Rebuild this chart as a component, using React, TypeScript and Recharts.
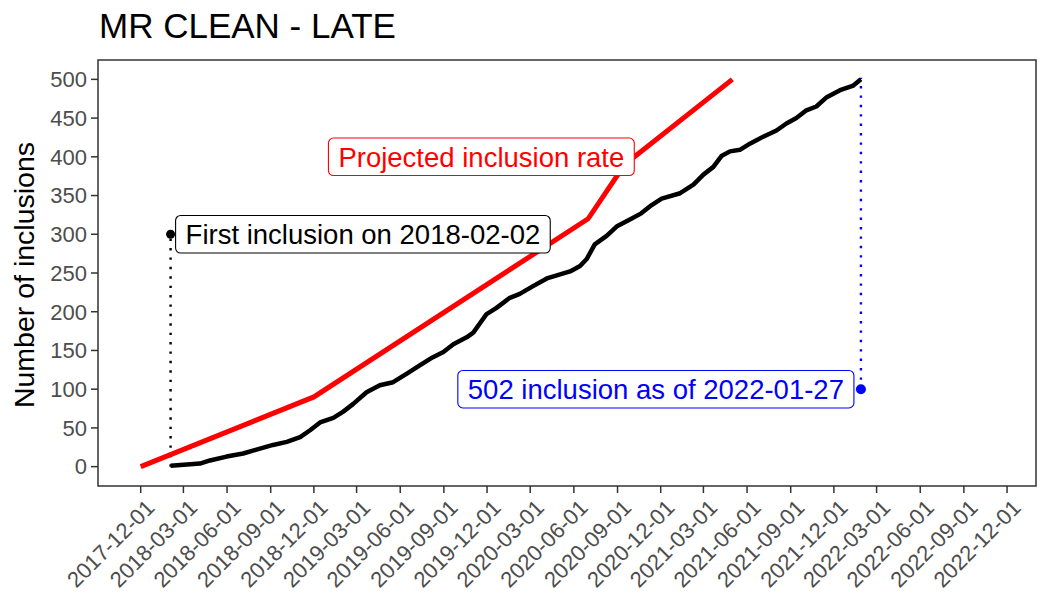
import { ComposedChart, Line, XAxis, YAxis, ReferenceArea, ReferenceDot } from "recharts";

const FONT = '"Liberation Sans", Arial, sans-serif';

// cumulative inclusions
const inclusionDates = [
  "2018-02-02", "2018-04-05", "2018-04-26", "2018-05-31", "2018-07-05", "2018-08-02",
  "2018-09-06", "2018-10-05", "2018-11-02", "2018-11-23", "2018-12-14", "2019-01-11",
  "2019-02-01", "2019-02-22", "2019-03-22", "2019-04-19", "2019-05-17", "2019-06-15",
  "2019-07-13", "2019-08-08", "2019-08-31", "2019-09-21", "2019-10-19", "2019-11-02",
  "2019-11-30", "2019-12-21", "2020-01-18", "2020-02-08", "2020-03-07", "2020-04-05",
  "2020-04-26", "2020-05-24", "2020-06-14", "2020-06-28", "2020-07-15", "2020-08-09",
  "2020-08-30", "2020-09-27", "2020-10-21", "2020-11-08", "2020-12-03", "2021-01-11",
  "2021-02-08", "2021-03-01", "2021-03-22", "2021-04-08", "2021-04-26", "2021-05-17",
  "2021-06-07", "2021-07-05", "2021-08-02", "2021-08-23", "2021-09-13", "2021-10-04",
  "2021-10-25", "2021-11-16", "2021-12-14", "2022-01-11", "2022-01-27",
];
const inclusionCounts = [
  1, 4, 8, 13, 17, 22,
  28, 32, 38, 47, 57, 63,
  71, 81, 96, 105, 109, 120,
  131, 141, 148, 158, 167, 173,
  197, 205, 218, 223, 233, 243,
  247, 252, 259, 268, 287, 298,
  310, 319, 327, 336, 346, 353,
  364, 377, 387, 401, 407, 409,
  417, 426, 434, 443, 450, 460,
  465, 477, 486, 492, 500,
];

const projectedDates = ["2017-12-01", "2018-12-01", "2020-07-01", "2020-09-16", "2021-05-01"];
const projectedCounts = [0, 90, 320, 390, 500];

const xTickDates = [
  "2017-12-01", "2018-03-01", "2018-06-01", "2018-09-01", "2018-12-01", "2019-03-01",
  "2019-06-01", "2019-09-01", "2019-12-01", "2020-03-01", "2020-06-01", "2020-09-01",
  "2020-12-01", "2021-03-01", "2021-06-01", "2021-09-01", "2021-12-01", "2022-03-01",
  "2022-06-01", "2022-09-01", "2022-12-01",
];
const yTicks = [0, 50, 100, 150, 200, 250, 300, 350, 400, 450, 500];

const firstDate = "2018-02-02";
const firstLabelAt = 300;
const lastDate = "2022-01-27";
const lastCount = 502;
const lastLabelAt = 100;
const projectedLabelDate = "2019-11-19";
const projectedLabelAt = 400;

const xDomainDates = ["2017-09-02", "2023-01-31"];
const yDomain = [-25, 525];

const toT = (s: string) => Date.parse(s + "T00:00:00Z");
const fmt = (t: number) => new Date(t).toISOString().slice(0, 10);

const inclusions = inclusionDates.map((d, i) => ({ t: toT(d), n: inclusionCounts[i] }));
const projected = projectedDates.map((d, i) => ({ t: toT(d), n: projectedCounts[i] }));
const firstStem = [{ t: toT(firstDate), n: 0 }, { t: toT(firstDate), n: firstLabelAt }];
const lastStem = [{ t: toT(lastDate), n: lastLabelAt }, { t: toT(lastDate), n: lastCount }];

const LABEL_SIZE = 27.5;
let canvas: HTMLCanvasElement | null = null;
function textWidth(s: string) {
  if (!canvas) canvas = document.createElement("canvas");
  const ctx = canvas.getContext("2d")!;
  ctx.font = `${LABEL_SIZE}px ${FONT}`;
  return ctx.measureText(s).width;
}

function boxLabel(text: string, color: string, align: "left" | "right" | "center", gap: number, dotR: number) {
  return (props: any) => {
    const { cx, cy } = props;
    const w = textWidth(text) + 20;
    const h = 37.5;
    const x0 = align === "left" ? cx + gap : align === "right" ? cx - gap - w : cx - w / 2;
    return (
      <g>
        {dotR > 0 && <circle cx={cx} cy={cy} r={dotR} fill={color} />}
        <rect x={x0} y={cy - h / 2} width={w} height={h} rx={5} ry={5} fill="#fff" stroke={color} strokeWidth={1.1} />
        <text x={x0 + 10} y={cy} dy="0.36em" fill={color} fontSize={LABEL_SIZE} fontFamily={FONT}>
          {text}
        </text>
      </g>
    );
  };
}

function DateTick(props: any) {
  const { x, payload } = props;
  const y = props.y + 3;
  return (
    <text
      x={x + 4}
      y={y}
      transform={`rotate(-45, ${x + 4}, ${y})`}
      textAnchor="end"
      dy="0.72em"
      fill="#4d4d4d"
      fontSize={22}
      fontFamily={FONT}
    >
      {fmt(payload.value)}
    </text>
  );
}

export default function App() {
  return (
    <div style={{ position: "absolute", left: 0, top: 0, width: 1050, height: 613, background: "#fff" }}>
      <ComposedChart width={1050} height={613} margin={{ top: 60, right: 14, bottom: 6, left: 38 }}>
        <XAxis
          type="number"
          dataKey="t"
          scale="linear"
          domain={xDomainDates.map(toT)}
          allowDataOverflow
          ticks={xTickDates.map(toT)}
          tick={<DateTick />}
          tickSize={7}
          tickMargin={2}
          height={121}
          axisLine={false}
          tickLine={{ stroke: "#333", strokeWidth: 1.5 }}
          interval={0}
        />
        <YAxis
          type="number"
          dataKey="n"
          domain={yDomain}
          allowDataOverflow
          ticks={yTicks}
          width={60}
          tickSize={7}
          tickMargin={4}
          axisLine={false}
          tickLine={{ stroke: "#333", strokeWidth: 1.5 }}
          tick={{ fill: "#4d4d4d", fontSize: 22, fontFamily: FONT }}
          interval={0}
        />
        <ReferenceArea
          x1={toT(xDomainDates[0])}
          x2={toT(xDomainDates[1])}
          y1={yDomain[0]}
          y2={yDomain[1]}
          fill="none"
          stroke="#333"
          strokeWidth={1.5}
          ifOverflow="visible"
        />
        <Line data={firstStem} dataKey="n" stroke="#000" strokeWidth={2.4} strokeDasharray="2.4 7" dot={false} isAnimationActive={false} />
        <Line data={lastStem} dataKey="n" stroke="#0000ff" strokeWidth={2.4} strokeDasharray="2.4 7" dot={false} isAnimationActive={false} />
        <Line data={projected} dataKey="n" stroke="#ff0000" strokeWidth={5} dot={false} isAnimationActive={false} />
        <Line data={inclusions} dataKey="n" stroke="#000" strokeWidth={4.5} strokeLinejoin="round" dot={false} isAnimationActive={false} />
        <ReferenceDot
          x={toT(projectedLabelDate)}
          y={projectedLabelAt}
          r={0}
          ifOverflow="visible"
          shape={boxLabel("Projected inclusion rate", "#ff0000", "center", 0, 0)}
        />
        <ReferenceDot
          x={toT(firstDate)}
          y={firstLabelAt}
          r={4.5}
          ifOverflow="visible"
          shape={boxLabel("First inclusion on " + firstDate, "#000", "left", 5, 4.5)}
        />
        <ReferenceDot
          x={toT(lastDate)}
          y={lastLabelAt}
          r={4.5}
          ifOverflow="visible"
          shape={boxLabel(`${lastCount} inclusion as of ${lastDate}`, "#0000ff", "right", 7, 5)}
        />
      </ComposedChart>
      <svg width={1050} height={613} style={{ position: "absolute", left: 0, top: 0, pointerEvents: "none" }}>
        <text x={99} y={38} fontSize={35} fontFamily={FONT} fill="#000">
          MR CLEAN - LATE
        </text>
        <text x={33.5} y={275} transform="rotate(-90, 33.5, 275)" textAnchor="middle" fontSize={28.5} fontFamily={FONT} fill="#000">
          Number of inclusions
        </text>
      </svg>
    </div>
  );
}
